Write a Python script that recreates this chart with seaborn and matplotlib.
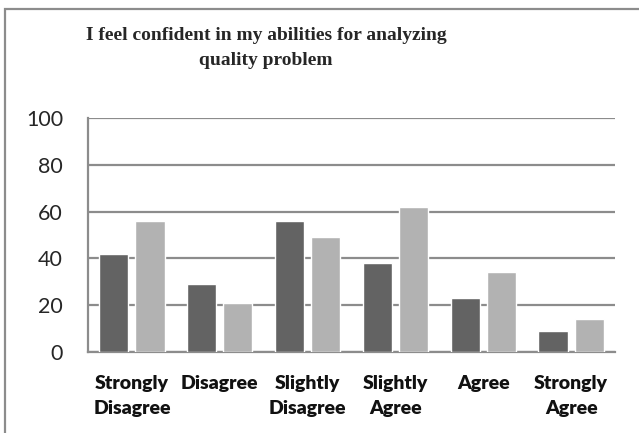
import pandas as pd
import matplotlib
matplotlib.use("Agg")
import matplotlib.pyplot as plt
import matplotlib.patches as patches
import seaborn as sns

# -------------------------------------------------------
# Data
# -------------------------------------------------------
categories = ["Strongly\nDisagree", "Disagree", "Slightly\nDisagree",
              "Slightly\nAgree", "Agree", "Strongly\nAgree"]
series_names = ["Series 1", "Series 2"]
series_1 = [42, 29, 56, 38, 23, 9]
series_2 = [56, 21, 49, 62, 34, 14]
y_ticks = [0, 20, 40, 60, 80, 100]
title = "I feel confident in my abilities for analyzing\nquality problem"

colors = ["#636363", "#b2b2b2"]
grid_col = "#8c8c8c"

df = pd.DataFrame({
    "category": categories * 2,
    "series": [series_names[0]] * len(categories) + [series_names[1]] * len(categories),
    "value": series_1 + series_2,
})

sns.set_style("white")

fig = plt.figure(figsize=(6.39, 4.33), dpi=100)
ax = fig.add_axes([88 / 639, 81.3 / 433, 527 / 639, 233.5 / 433])

sns.barplot(data=df, x="category", y="value", hue="series", order=categories,
            hue_order=series_names, palette=colors, width=0.82, gap=0.19,
            saturation=1, legend=False, ax=ax, zorder=3)

ax.set_ylim(0, 100)
ax.set_yticks(y_ticks)
ax.set_xlim(-0.5, len(categories) - 0.5)
ax.grid(axis="y", color=grid_col, linewidth=1.6, zorder=0)
ax.set_axisbelow(True)
ax.set_xlabel("")
ax.set_ylabel("")

for side in ["top", "right"]:
    ax.spines[side].set_visible(False)
for side in ["left", "bottom"]:
    ax.spines[side].set_color(grid_col)
    ax.spines[side].set_linewidth(1.6)

ax.tick_params(axis="both", length=0)
ax.tick_params(axis="y", pad=18)
ax.tick_params(axis="x", pad=17)
for lbl in ax.get_yticklabels():
    lbl.set_fontfamily("Lato")
    lbl.set_fontsize(15.5)
for lbl in ax.get_xticklabels():
    lbl.set_fontfamily("Lato")
    lbl.set_fontsize(14)
    lbl.set_fontweight("heavy")
    lbl.set_color("#111111")
    lbl.set_linespacing(1.55)

fig.text(266 / 639, (433 - 48) / 433, title, ha="center", va="center",
         fontsize=14, fontweight="bold", family="Liberation Serif",
         linespacing=1.55)

# outer chart frame (only the left and top edges are inside the picture)
frame = patches.Rectangle((5 / 639, -0.1), 1.2, (433 - 9) / 433 + 0.1,
                          transform=fig.transFigure, fill=False,
                          edgecolor=grid_col, linewidth=1.6)
fig.add_artist(frame)

fig.savefig("out.png", dpi=100)
